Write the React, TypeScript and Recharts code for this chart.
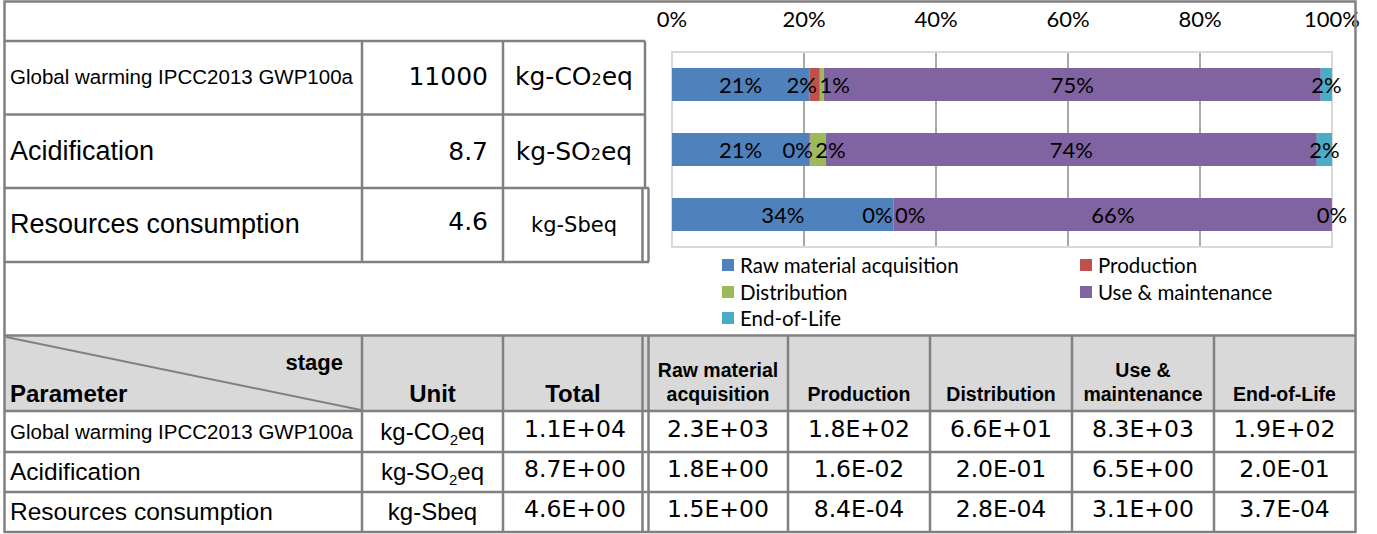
import React from 'react';
import { BarChart, Bar, XAxis, YAxis, CartesianGrid, Legend, LabelList, ReferenceArea } from 'recharts';

// ---------- data ----------
const IMPACTS = ['Global warming IPCC2013 GWP100a', 'Acidification', 'Resources consumption'];
const UNITS = ['kg-CO2eq', 'kg-SO2eq', 'kg-Sbeq'];
const TOTALS_SHORT = ['11000', '8.7', '4.6'];
const TOTALS_SCI = ['1.1E+04', '8.7E+00', '4.6E+00'];
const STAGES = ['Raw material acquisition', 'Production', 'Distribution', 'Use & maintenance', 'End-of-Life'];
const STAGE_HEADERS = [['Raw material', 'acquisition'], ['Production'], ['Distribution'], ['Use &', 'maintenance'], ['End-of-Life']];
const STAGE_VALUES_GW = ['2.3E+03', '1.8E+02', '6.6E+01', '8.3E+03', '1.9E+02'];
const STAGE_VALUES_AC = ['1.8E+00', '1.6E-02', '2.0E-01', '6.5E+00', '2.0E-01'];
const STAGE_VALUES_RC = ['1.5E+00', '8.4E-04', '2.8E-04', '3.1E+00', '3.7E-04'];
const STAGE_VALUES = [STAGE_VALUES_GW, STAGE_VALUES_AC, STAGE_VALUES_RC];

// share of each stage, % (per impact category)
const RAW_PCT = [20.8, 20.8, 33.6];
const PROD_PCT = [1.6, 0.2, 0.02];
const DIST_PCT = [0.6, 2.3, 0.01];
const USE_PCT = [75.3, 74.4, 66.36];
const EOL_PCT = [1.7, 2.3, 0.01];
const TICKS = [0, 20, 40, 60, 80, 100];

const SERIES = [
  { key: 'raw', name: STAGES[0], color: '#4F81BD', values: RAW_PCT },
  { key: 'prod', name: STAGES[1], color: '#C0504D', values: PROD_PCT },
  { key: 'dist', name: STAGES[2], color: '#9BBB59', values: DIST_PCT },
  { key: 'use', name: STAGES[3], color: '#8064A2', values: USE_PCT },
  { key: 'eol', name: STAGES[4], color: '#4BACC6', values: EOL_PCT },
];

const chartData = IMPACTS.map((name, i) => {
  const row: any = { name };
  SERIES.forEach((s) => { row[s.key] = s.values[i]; });
  return row;
});

// ---------- layout ----------
const CHART_LEFT = 620;
const CHART_W = 740;
const CHART_H = 335;
const MARGIN = { top: 0, right: 28, bottom: 8, left: 52 };
const PLOT_W = CHART_W - MARGIN.left - MARGIN.right;
const CHART_FONT = 'Lato, "Open Sans", sans-serif';
const LABEL_FS = 22;

function layoutLabels(centers: number[], widths: number[]): number[] {
  type C = { idx: number[]; width: number; center: number };
  let clusters: C[] = centers
    .map((c, i) => ({ idx: [i], width: widths[i], center: c }))
    .sort((a, b) => a.center - b.center || a.idx[0] - b.idx[0]);
  let merged = true;
  while (merged) {
    merged = false;
    for (let j = 0; j < clusters.length - 1; j++) {
      const a = clusters[j];
      const b = clusters[j + 1];
      if (a.center + a.width / 2 > b.center - b.width / 2) {
        const idx = a.idx.concat(b.idx);
        const center = idx.reduce((s, k) => s + centers[k], 0) / idx.length;
        clusters.splice(j, 2, { idx, width: a.width + b.width, center });
        merged = true;
        break;
      }
    }
  }
  const out: number[] = new Array(centers.length).fill(0);
  clusters.forEach((c) => {
    let x = c.center - c.width / 2;
    c.idx.forEach((k) => {
      out[k] = x + widths[k] / 2;
      x += widths[k];
    });
  });
  return out;
}

const renderRowLabels = (props: any) => {
  const { x, y, width, height, index } = props;
  const vals = SERIES.map((s) => s.values[index]);
  const total = vals.reduce((a, b) => a + b, 0);
  const r = PLOT_W / 100;
  const endX = Number(x) + Number(width);
  let cum = 0;
  const centers: number[] = [];
  vals.forEach((v) => {
    const start = endX - (total - cum) * r;
    centers.push(start + (v * r) / 2);
    cum += v;
  });
  const texts = vals.map((v) => `${Math.round(v)}%`);
  const widths = texts.map((t) => t.length * LABEL_FS * 0.52 + 10);
  const pos = layoutLabels(centers, widths);
  const cy = Number(y) + Number(height) / 2;
  return (
    <g>
      {texts.map((t, k) => (
        <text key={k} x={pos[k]} y={cy} textAnchor="middle" dominantBaseline="central"
          fontFamily={CHART_FONT} fontSize={LABEL_FS} fill="#000">{t}</text>
      ))}
    </g>
  );
};

const renderTick = (props: any) => (
  <text x={props.x} y={27} textAnchor="middle" fontFamily={CHART_FONT} fontSize={LABEL_FS} fill="#000">
    {props.payload.value}%
  </text>
);

const renderLegend = (props: any) => {
  const payload = [...(props.payload || [])].sort(
    (a: any, b: any) => STAGES.indexOf(a.value) - STAGES.indexOf(b.value)
  );
  return (
    <div style={{ display: 'grid', gridTemplateColumns: '358px 240px', paddingLeft: 102 }}>
      {payload.map((p: any, i: number) => (
        <div key={i} style={{ display: 'flex', alignItems: 'center', height: 26.5, fontFamily: CHART_FONT, fontSize: 20.5, color: '#000', whiteSpace: 'nowrap' }}>
          <span style={{ display: 'inline-block', width: 12, height: 12, background: p.color, marginRight: 6 }} />
          {p.value}
        </div>
      ))}
    </div>
  );
};

// ---------- table helpers ----------
const LINE = '#808080';
const ARIAL = '"Liberation Sans", Arial, sans-serif';
const VERDANA = '"DejaVu Sans", Verdana, sans-serif';

function unitSpans(u: string, fs: number, subFs: number, shift: number) {
  const parts = u.split(/(\d)/);
  return parts.map((p, i) => {
    if (/^\d$/.test(p)) return <tspan key={i} fontSize={subFs} dy={shift}>{p}</tspan>;
    const prevSub = i > 0 && /^\d$/.test(parts[i - 1]);
    return <tspan key={i} fontSize={fs} dy={prevSub ? -shift : 0}>{p}</tspan>;
  });
}

const TOP_ROW_Y = [76, 151, 224];
const TOP_NAME_FS = [20.5, 27, 27];
const BOT_ROW_Y = [431, 471, 511];
const BOT_NAME_FS = [20.5, 24.5, 24.5];
const STAGE_COL_X = [718, 859, 1001, 1143, 1284.5];

function Tables() {
  const hl = (y: number, x1: number, x2: number, k: string) => <line key={k} x1={x1} y1={y} x2={x2} y2={y} stroke={LINE} strokeWidth={2.5} />;
  const vl = (x: number, y1: number, y2: number, k: string) => <line key={k} x1={x} y1={y1} x2={x} y2={y2} stroke={LINE} strokeWidth={2.5} />;
  return (
    <svg width={1377} height={534} style={{ position: 'absolute', left: 0, top: 0, pointerEvents: 'none' }}>
      {/* header background */}
      <rect x={5} y={336} width={1350} height={75} fill="#d9d9d9" />
      {/* frame */}
      <rect x={4.5} y={1.5} width={1351} height={530.5} fill="none" stroke={LINE} strokeWidth={2.5} />
      {/* top summary table */}
      {hl(41, 4.5, 645, 'h1')}
      {hl(114.5, 4.5, 645, 'h2')}
      {hl(188, 4.5, 649, 'h3')}
      {hl(262, 4.5, 649, 'h4')}
      {vl(362, 41, 262, 'v1')}
      {vl(503, 41, 262, 'v2')}
      {vl(645, 41, 188, 'v3')}
      {vl(642.5, 188, 262, 'v4')}
      {vl(648.5, 188, 262, 'v5')}
      {/* bottom table */}
      {hl(335.5, 4.5, 1355.5, 'b0')}
      {hl(411, 4.5, 1355.5, 'b1')}
      {hl(452, 4.5, 1355.5, 'b2')}
      {hl(492, 4.5, 1355.5, 'b3')}
      {[362, 503, 642.5, 648.5, 788, 930, 1072, 1214].map((x, i) => vl(x, 335.5, 532, 'bv' + i))}
      <line x1={6} y1={337} x2={361} y2={410} stroke={LINE} strokeWidth={2} />

      {/* top table text */}
      {IMPACTS.map((n, i) => (
        <text key={'tn' + i} x={10} y={TOP_ROW_Y[i]} dominantBaseline="central" fontFamily={ARIAL} fontSize={TOP_NAME_FS[i]} fill="#000">{n}</text>
      ))}
      {TOTALS_SHORT.map((t, i) => (
        <text key={'tt' + i} x={488} y={TOP_ROW_Y[i] - (i === 2 ? 3 : 0)} textAnchor="end" dominantBaseline="central" fontFamily={VERDANA} fontSize={25} fill="#000">{t}</text>
      ))}
      {UNITS.map((u, i) => (
        <text key={'tu' + i} x={574} y={TOP_ROW_Y[i] + (i < 2 ? 9 : 7.5)} textAnchor="middle" fontFamily={VERDANA} fill="#000">
          {i < 2 ? unitSpans(u, 25, 16, 0) : <tspan fontSize={21}>{u}</tspan>}
        </text>
      ))}

      {/* bottom header */}
      <text x={343} y={362} textAnchor="end" dominantBaseline="central" fontFamily={ARIAL} fontWeight="bold" fontSize={22} fill="#000">stage</text>
      <text x={10} y={393} dominantBaseline="central" fontFamily={ARIAL} fontWeight="bold" fontSize={24} fill="#000">Parameter</text>
      <text x={432.5} y={393} textAnchor="middle" dominantBaseline="central" fontFamily={ARIAL} fontWeight="bold" fontSize={24} fill="#000">Unit</text>
      <text x={573} y={393} textAnchor="middle" dominantBaseline="central" fontFamily={ARIAL} fontWeight="bold" fontSize={24} fill="#000">Total</text>
      {STAGE_HEADERS.map((lines, i) => (
        <text key={'sh' + i} x={STAGE_COL_X[i]} textAnchor="middle" dominantBaseline="central" fontFamily={ARIAL} fontWeight="bold" fontSize={19.5} fill="#000">
          {lines.map((l, j) => (
            <tspan key={j} x={STAGE_COL_X[i]} y={lines.length === 2 ? 370 + j * 24 : 394}>{l}</tspan>
          ))}
        </text>
      ))}

      {/* bottom rows */}
      {IMPACTS.map((n, i) => (
        <g key={'br' + i}>
          <text x={10} y={BOT_ROW_Y[i]} dominantBaseline="central" fontFamily={ARIAL} fontSize={BOT_NAME_FS[i]} fill="#000">{n}</text>
          <text x={432.5} y={BOT_ROW_Y[i] + 8.5} textAnchor="middle" fontFamily={ARIAL} fill="#000">
            {unitSpans(UNITS[i], 24, 15, 5)}
          </text>
          <text x={575} y={BOT_ROW_Y[i] - 2} textAnchor="middle" dominantBaseline="central" fontFamily={VERDANA} fontSize={23.5} fill="#000">{TOTALS_SCI[i]}</text>
          {STAGE_VALUES[i].map((v, k) => (
            <text key={k} x={STAGE_COL_X[k]} y={BOT_ROW_Y[i] - 2} textAnchor="middle" dominantBaseline="central" fontFamily={VERDANA} fontSize={23.5} fill="#000">{v}</text>
          ))}
        </g>
      ))}
    </svg>
  );
}

export default function App() {
  return (
    <div style={{ position: 'absolute', left: 0, top: 0, width: 1377, height: 534, background: '#fff', overflow: 'hidden' }}>
      <div style={{ position: 'absolute', left: CHART_LEFT, top: 0 }}>
        <BarChart width={CHART_W} height={CHART_H} data={chartData} layout="vertical" margin={MARGIN}>
          <CartesianGrid horizontal={false} stroke="#8c8c8c" strokeWidth={1.5} />
          <XAxis type="number" orientation="top" domain={[0, 100]} ticks={TICKS} interval={0}
            axisLine={false} tickLine={false} height={52} tick={renderTick} />
          <YAxis type="category" dataKey="name" hide />
          <ReferenceArea x1={0} x2={100} fill="none" stroke="#d9d9d9" strokeWidth={2} ifOverflow="visible" />
          {SERIES.map((s, i) => (
            <Bar key={s.key} dataKey={s.key} name={s.name} stackId="a" fill={s.color} barSize={33} isAnimationActive={false}>
              {i === SERIES.length - 1 && <LabelList content={renderRowLabels} />}
            </Bar>
          ))}
          <Legend verticalAlign="bottom" height={80} content={renderLegend}
            wrapperStyle={{ left: 0, top: 252, width: CHART_W, height: 80 }} />
        </BarChart>
      </div>
      <Tables />
    </div>
  );
}
